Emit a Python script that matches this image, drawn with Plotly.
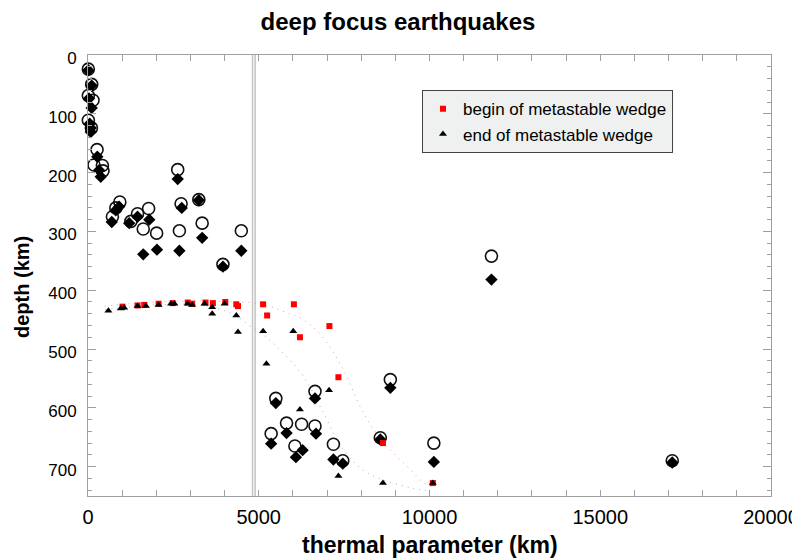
import plotly.graph_objects as go

# ---- data ----
circle_x = [10, 108, 10, 147, 10, 100, 265, 176, 421, 440, 2627, 932, 815, 715, 1255, 1451,
            1775, 1618, 2010, 2676, 2726, 3245, 3343, 3951, 4490, 11814, 17108, 8853, 6647,
            5500, 5814, 6255, 6647, 5363, 6059, 7186, 7461, 8559, 10127]
circle_depth = [24, 50, 69, 77, 111, 124, 161, 187, 188, 197, 195, 250, 260, 275, 283, 270,
                261, 296, 303, 299, 253, 246, 286, 356, 299, 342, 690, 552, 572,
                584, 626, 628, 631, 644, 665, 662, 690, 651, 660]

diamond_x = [10, 108, 30, 108, 50, 80, 80, 273, 324, 373, 2627, 912, 815, 696, 1206, 1451,
             1794, 1618, 2020, 2676, 2745, 3245, 3343, 3951, 4490, 11814, 17108, 8853, 6647,
             5500, 5814, 6676, 5363, 6088, 6284, 7186, 7461, 8559, 10127]
diamond_depth = [26, 52, 74, 90, 117, 124, 131, 173, 196, 207, 211, 258, 264, 284, 286, 275,
                 280, 339, 331, 333, 260, 247, 311, 360, 333, 382, 693, 566, 584,
                 592, 643, 644, 661, 684, 672, 688, 695, 654, 692]

begin_x = [1010, 1451, 1647, 2068, 2480, 2921, 3049, 3441, 3657, 4020, 4343, 4392, 5127,
           6029, 5245, 7069, 6206, 7333, 8637, 10097]
begin_depth = [428, 426, 425, 423, 422, 421, 423, 421, 422, 420, 424, 427, 424,
               424, 443, 461, 480, 548, 660, 728]

end_x = [598, 961, 1059, 1451, 1696, 2068, 2431, 2529, 2921, 3049, 3412, 3637, 3637, 4000,
         4343, 4392, 5127, 6010, 5225, 7059, 6206, 7333, 8637, 10097]
end_depth = [435, 431, 430, 427, 427, 425, 423, 423, 423, 425, 423, 429, 440, 423,
             443, 471, 470, 470, 525, 570, 603, 716, 728, 728]

begin_fit_x = [489, 1000, 1500, 2000, 2500, 3000, 3500, 4000, 4500, 5129, 5715, 6301, 6887,
               7474, 8060, 8646, 9426, 9818, 10100]
begin_fit_depth = [427, 424, 422, 420, 419, 418, 418, 419, 420, 424, 436, 450, 481,
                   535, 608, 659, 704, 727, 735]

end_fit_x = [500, 1000, 1500, 2000, 2500, 3000, 3500, 4000, 4350, 4740, 5180, 5715, 6300,
             6890, 7470, 8160, 9430, 10015]
end_fit_depth = [433, 430, 427, 425, 424, 424, 427, 435, 444, 461, 478, 507, 546,
                 608, 671, 710, 736, 741]

x_ticks = [0, 5000, 10000, 15000, 20000]
y_ticks = [0, 100, 200, 300, 400, 500, 600, 700]

# ---- styling ----
FONT = "Arial, Liberation Sans, sans-serif"
FRAME = "#a0a0a0"

fig = go.Figure()

fig.add_trace(go.Scatter(x=begin_fit_x, y=begin_fit_depth, mode="lines",
                         line=dict(color="rgba(235,90,90,0.6)", width=1, dash="1px,5px",
                                   shape="spline"),
                         showlegend=False, hoverinfo="skip"))
fig.add_trace(go.Scatter(x=end_fit_x, y=end_fit_depth, mode="lines",
                         line=dict(color="rgba(120,120,120,0.6)", width=1, dash="1px,5px",
                                   shape="spline"),
                         showlegend=False, hoverinfo="skip"))

fig.add_trace(go.Scatter(x=circle_x, y=circle_depth, mode="markers",
                         marker=dict(symbol="circle-open", size=12, color="#111111",
                                     line=dict(width=1.6)),
                         showlegend=False, cliponaxis=False))
fig.add_trace(go.Scatter(x=diamond_x, y=diamond_depth, mode="markers",
                         marker=dict(symbol="diamond", size=9.5, color="black",
                                     line=dict(width=0)),
                         showlegend=False, cliponaxis=False))
fig.add_trace(go.Scatter(x=begin_x, y=begin_depth, mode="markers",
                         name="begin of metastable wedge",
                         marker=dict(symbol="square", size=6, color="#ff0000",
                                     line=dict(width=0))))
fig.add_trace(go.Scatter(x=end_x, y=end_depth, mode="markers",
                         name="end of metastable wedge",
                         marker=dict(symbol="triangle-up", size=7, color="black",
                                     line=dict(width=0))))

# double vertical line near x = 4850
for xv in (4818, 4894):
    fig.add_shape(type="line", xref="x", yref="y", x0=xv, x1=xv, y0=0, y1=750,
                  line=dict(color="#c4c4c4", width=1.5), layer="below")

# axis titles as annotations for exact placement
fig.add_annotation(text="<b>thermal parameter (km)</b>", xref="paper", yref="paper",
                   x=0.5, y=-0.111, xanchor="center", yanchor="middle", showarrow=False,
                   font=dict(size=23, family=FONT, color="black"))
fig.add_annotation(text="<b>depth (km)</b>", xref="paper", yref="paper",
                   x=-0.0966, y=0.474, xanchor="center", yanchor="middle", showarrow=False,
                   textangle=-90, font=dict(size=20, family=FONT, color="black"))

# page body has an 8px margin, so the figure is sized 792x551 to fill the 800x559 window
fig.update_layout(
    width=792, height=551,
    margin=dict(l=80, r=29, t=47, b=63, autoexpand=False),
    paper_bgcolor="white", plot_bgcolor="white",
    font=dict(family=FONT, color="black"),
    title=dict(text="<b>deep focus earthquakes</b>", x=0.4924, xanchor="center",
               y=0.975, yanchor="middle", automargin=False,
               font=dict(size=24, family=FONT, color="black")),
    xaxis=dict(range=[0, 20000], tickvals=x_ticks, ticktext=[str(v) for v in x_ticks],
               ticks="inside", ticklen=6, tickcolor=FRAME, tickwidth=1,
               showline=True, linecolor=FRAME, linewidth=1, mirror="ticks",
               showgrid=False, zeroline=False, automargin=False, ticklabelstandoff=3,
               minor=dict(dtick=1000, tick0=0, ticks="inside", ticklen=6, tickcolor=FRAME,
                          showgrid=False),
               tickfont=dict(size=20, family=FONT, color="black")),
    yaxis=dict(range=[750, 0], tickvals=y_ticks, ticktext=[str(v) for v in y_ticks],
               ticks="inside", ticklen=8, tickcolor=FRAME, tickwidth=1,
               showline=True, linecolor=FRAME, linewidth=1, mirror="ticks",
               showgrid=False, zeroline=False, automargin=False,
               ticklabelstandoff=7, ticklabelshift=-3,
               minor=dict(dtick=20, tick0=0, ticks="inside", ticklen=4, tickcolor=FRAME,
                          showgrid=False),
               tickfont=dict(size=17, family=FONT, color="black")),
    legend=dict(x=0.489, y=0.92, xanchor="left", yanchor="top",
                bgcolor="#eef1ef", bordercolor="#444444", borderwidth=1,
                font=dict(size=17, family=FONT, color="black"),
                entrywidth=235, entrywidthmode="pixels",
                tracegroupgap=0, itemsizing="trace"),
)

fig.write_html("out.html")
